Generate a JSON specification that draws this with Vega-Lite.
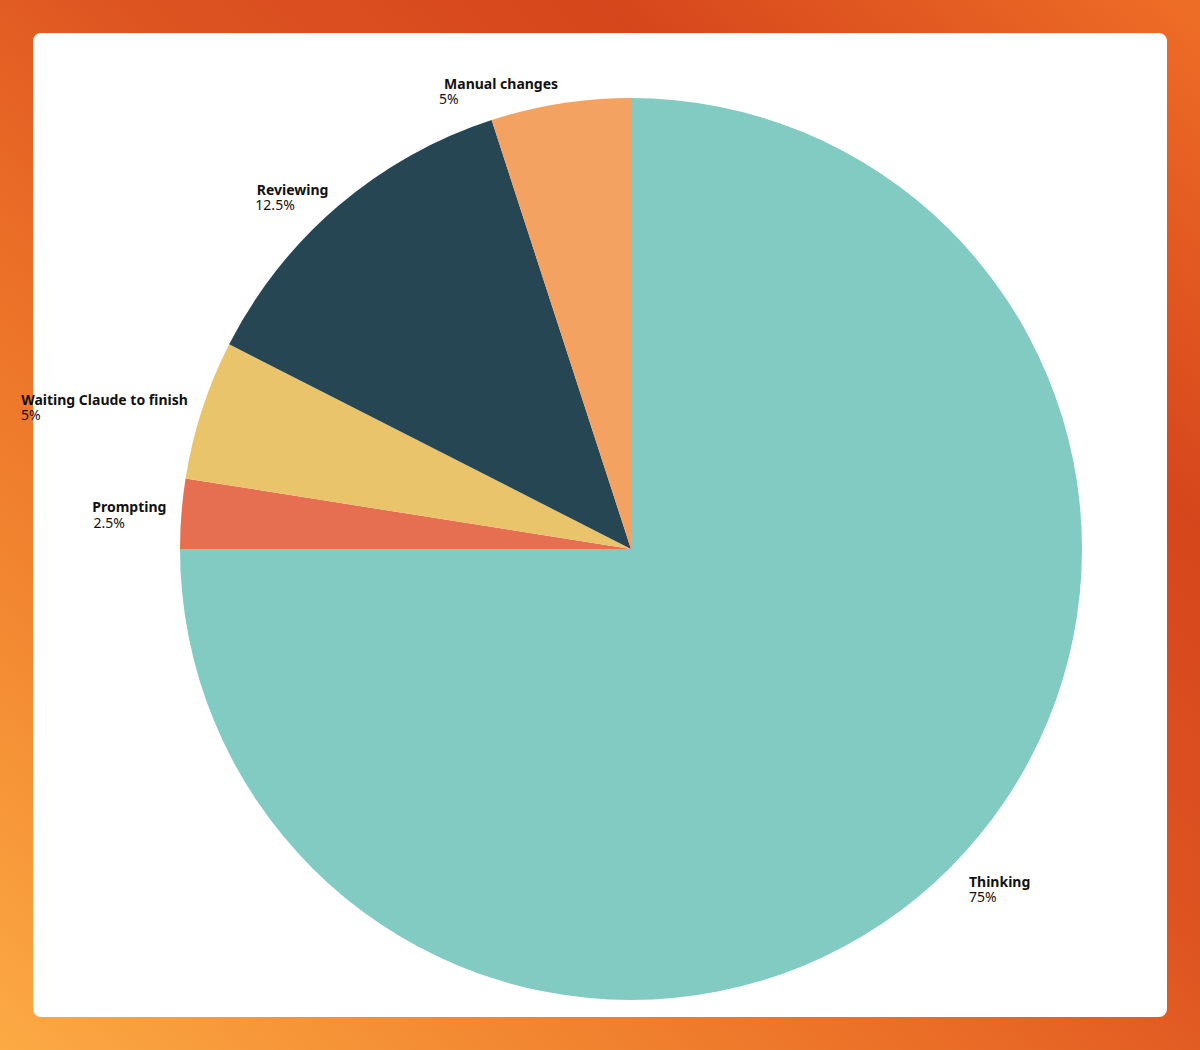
{
  "$schema": "https://vega.github.io/schema/vega-lite/v6.json",
  "width": 1200,
  "height": 1050,
  "autosize": "none",
  "padding": 0,
  "background": "#ffffff",
  "config": {
    "font": "Noto Sans"
  },
  "view": {
    "fill": "#ffffff",
    "stroke": {
      "gradient": "linear",
      "x1": 0, "y1": 1, "x2": 1, "y2": 0,
      "stops": [
        {"offset": 0, "color": "#fcaa44"},
        {"offset": 0.2, "color": "#f38a32"},
        {"offset": 0.4, "color": "#ea6c26"},
        {"offset": 0.55, "color": "#dd5421"},
        {"offset": 0.75, "color": "#d6461c"},
        {"offset": 1, "color": "#ee6e26"}
      ]
    },
    "strokeWidth": 66,
    "cornerRadius": 41
  },
  "data": {
    "values": [
      {"category": "Thinking", "value": 0.75, "order": 1},
      {"category": "Prompting", "value": 0.025, "order": 2},
      {"category": "Waiting Claude to finish", "value": 0.05, "order": 3},
      {"category": "Reviewing", "value": 0.125, "order": 4},
      {"category": "Manual changes", "value": 0.05, "order": 5}
    ]
  },
  "encoding": {
    "theta": {"field": "value", "type": "quantitative", "stack": true},
    "order": {"field": "order", "type": "ordinal"}
  },
  "layer": [
    {
      "mark": {
        "type": "arc",
        "outerRadius": 451,
        "x": {"expr": "width/2 + 31"},
        "y": {"expr": "height/2 + 24"}
      },
      "encoding": {
        "color": {
          "field": "category",
          "type": "nominal",
          "scale": {
            "domain": ["Thinking", "Prompting", "Waiting Claude to finish", "Reviewing", "Manual changes"],
            "range": ["#82cbc3", "#e76f51", "#e9c46a", "#264653", "#f4a261"]
          },
          "legend": null
        }
      }
    },
    {
      "mark": {
        "type": "text",
        "x": {"expr": "width/2 + 31"},
        "y": {"expr": "height/2 + 24"},
        "radius": {"expr": "datum.category === 'Thinking' ? 478 : 466"},
        "align": {"expr": "datum.category === 'Thinking' ? 'left' : 'right'"},
        "baseline": "alphabetic",
        "fontSize": 14,
        "fontWeight": "bold",
        "color": "#111111"
      },
      "encoding": {
        "text": {"field": "category", "type": "nominal"}
      }
    },
    {
      "mark": {
        "type": "text",
        "x": {"expr": "width/2 + 31"},
        "y": {"expr": "height/2 + 24"},
        "radius": {"expr": "datum.category === 'Thinking' ? 478 : 466"},
        "align": "left",
        "dx": {"expr": "datum.category === 'Thinking' ? 0 : -(length(replace(datum.category, regexp('[iltf ]', 'g'), '')) * 9.2 + (length(datum.category) - length(replace(datum.category, regexp('[iltf ]', 'g'), ''))) * 4.3)"},
        "dy": 15.5,
        "baseline": "alphabetic",
        "fontSize": 14,
        "color": "#111111"
      },
      "encoding": {
        "text": {"field": "value", "type": "quantitative", "format": "~%"}
      }
    }
  ]
}
